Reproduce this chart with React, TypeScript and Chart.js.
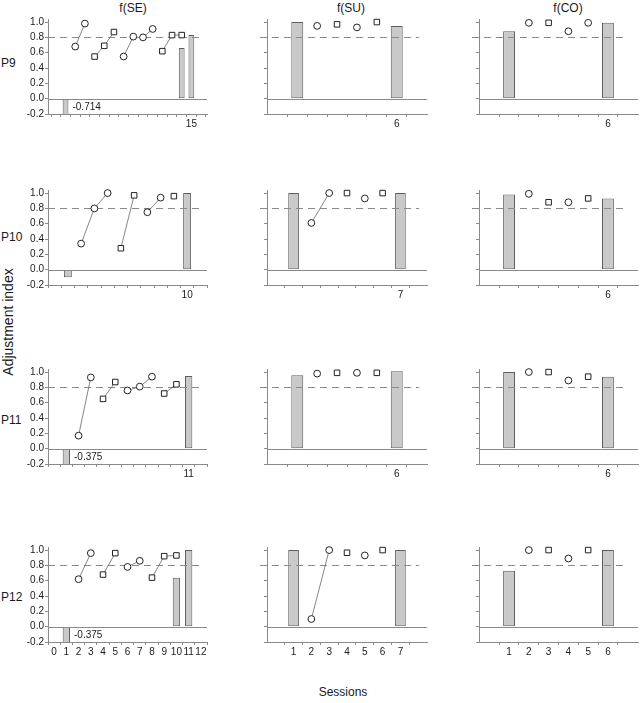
import React, { useEffect, useRef } from 'react';
import { Chart, registerables } from 'chart.js';

Chart.register(...registerables);

// ---------- texts ----------
const COLUMN_TITLES = ['f(SE)', 'f(SU)', 'f(CO)'];
const ROW_LABELS = ['P9', 'P10', 'P11', 'P12'];
const Y_AXIS_TITLE = 'Adjustment index';
const X_AXIS_TITLE = 'Sessions';
const Y_TICKS = [-0.2, 0, 0.2, 0.4, 0.6, 0.8, 1.0];
const CRITERION = 0.8;

// ---------- data : bars (session, value) and point runs [first session, marker, values] ----------
// f(SE)
const BAR_X_P9_SE = [2, 14, 15];
const BAR_Y_P9_SE = [-0.714, 0.66, 0.83];
const RUNS_P9_SE = [[3, 'o', [0.68, 0.98]], [5, 's', [0.55, 0.69, 0.87]], [8, 'o', [0.55, 0.81]], [10, 'o', [0.8, 0.91]], [12, 's', [0.62, 0.83, 0.83]]];
const BAR_X_P10_SE = [1, 10];
const BAR_Y_P10_SE = [-0.1, 1.0];
const RUNS_P10_SE = [[2, 'o', [0.34, 0.8, 1.0]], [5, 's', [0.28, 0.97]], [7, 'o', [0.75, 0.94]], [9, 's', [0.96]]];
const BAR_X_P11_SE = [1, 11];
const BAR_Y_P11_SE = [-0.375, 0.95];
const RUNS_P11_SE = [[2, 'o', [0.17, 0.93]], [4, 's', [0.65, 0.87]], [6, 'o', [0.76, 0.81, 0.94]], [9, 's', [0.72, 0.84]]];
const BAR_X_P12_SE = [1, 10, 11];
const BAR_Y_P12_SE = [-0.375, 0.64, 1.0];
const RUNS_P12_SE = [[2, 'o', [0.62, 0.96]], [4, 's', [0.68, 0.96]], [6, 'o', [0.78, 0.86]], [8, 's', [0.64, 0.92, 0.93]]];
// f(SU)
const BAR_X_P9_SU = [1, 6];
const BAR_Y_P9_SU = [1.0, 0.95];
const RUNS_P9_SU = [[2, 'o', [0.95]], [3, 's', [0.97]], [4, 'o', [0.93]], [5, 's', [1.0]]];
const BAR_X_P10_SU = [1, 7];
const BAR_Y_P10_SU = [1.0, 1.0];
const RUNS_P10_SU = [[2, 'o', [0.61, 1.0]], [4, 's', [1.0]], [5, 'o', [0.93]], [6, 's', [1.0]]];
const BAR_X_P11_SU = [1, 6];
const BAR_Y_P11_SU = [0.96, 1.01];
const RUNS_P11_SU = [[2, 'o', [0.98]], [3, 's', [0.99]], [4, 'o', [0.99]], [5, 's', [0.99]]];
const BAR_X_P12_SU = [1, 7];
const BAR_Y_P12_SU = [1.0, 1.0];
const RUNS_P12_SU = [[2, 'o', [0.1, 1.0]], [4, 's', [0.965]], [5, 'o', [0.93]], [6, 's', [1.0]]];
// f(CO)
const BAR_X_P9_CO = [1, 6];
const BAR_Y_P9_CO = [0.88, 0.99];
const RUNS_P9_CO = [[2, 'o', [0.99]], [3, 's', [0.99]], [4, 'o', [0.88]], [5, 'o', [0.99]]];
const BAR_X_P10_CO = [1, 6];
const BAR_Y_P10_CO = [0.98, 0.93];
const RUNS_P10_CO = [[2, 'o', [0.99]], [3, 's', [0.88]], [4, 'o', [0.88]], [5, 's', [0.93]]];
const BAR_X_P11_CO = [1, 6];
const BAR_Y_P11_CO = [1.0, 0.94];
const RUNS_P11_CO = [[2, 'o', [1.0]], [3, 's', [1.0]], [4, 'o', [0.89]], [5, 's', [0.94]]];
const BAR_X_P12_CO = [1, 6];
const BAR_Y_P12_CO = [0.73, 1.0];
const RUNS_P12_CO = [[2, 'o', [1.0]], [3, 's', [1.0]], [4, 'o', [0.89]], [5, 's', [1.0]]];

// x-axis ranges and labelled ticks per panel
const X_RANGE = [
  [[0.7, 16.1], [0.15, 6.85], [0.15, 6.85]],
  [[0, 11], [0.15, 7.85], [0.15, 6.85]],
  [[0, 12], [0.15, 6.85], [0.15, 6.85]],
  [[0, 12], [0.15, 7.85], [0.15, 6.85]],
];
const X_LABELS = [
  [[15], [6], [6]],
  [[10], [7], [6]],
  [[11], [6], [6]],
  [[0, 1, 2, 3, 4, 5, 6, 7, 8, 9, 10, 11, 12], [1, 2, 3, 4, 5, 6, 7], [1, 2, 3, 4, 5, 6]],
];

const PANELS = [
  [[BAR_X_P9_SE, BAR_Y_P9_SE, RUNS_P9_SE], [BAR_X_P9_SU, BAR_Y_P9_SU, RUNS_P9_SU], [BAR_X_P9_CO, BAR_Y_P9_CO, RUNS_P9_CO]],
  [[BAR_X_P10_SE, BAR_Y_P10_SE, RUNS_P10_SE], [BAR_X_P10_SU, BAR_Y_P10_SU, RUNS_P10_SU], [BAR_X_P10_CO, BAR_Y_P10_CO, RUNS_P10_CO]],
  [[BAR_X_P11_SE, BAR_Y_P11_SE, RUNS_P11_SE], [BAR_X_P11_SU, BAR_Y_P11_SU, RUNS_P11_SU], [BAR_X_P11_CO, BAR_Y_P11_CO, RUNS_P11_CO]],
  [[BAR_X_P12_SE, BAR_Y_P12_SE, RUNS_P12_SE], [BAR_X_P12_SU, BAR_Y_P12_SU, RUNS_P12_SU], [BAR_X_P12_CO, BAR_Y_P12_CO, RUNS_P12_CO]],
];

// ---------- layout / style ----------
const Y_MIN = -0.2;
const Y_MAX = 1.04;
const COL_LEFT = [48, 267, 479];
const COL_RIGHT = [207, 427, 638];
const ROW_ZERO = [99, 270, 449, 627];
const UNIT = 77;
const YW = 40;
const XH = 18;
const PAD_T = 8;
const PAD_R = 10;
const DASH_EXT_LEFT = [0, 7, 7];
const DASH_INSET_RIGHT = [4, 8, 10];
const FONT = "'Liberation Sans', Arial, sans-serif";
const AXIS_COLOR = '#8a8a8a';
const TEXT_COLOR = '#1a1a1a';

const refPlugin = {
  id: 'refLines',
  afterDatasetDraw(chart: any, args: any, opts: any) {
    if (args.meta.type !== 'bar') return;
    const { ctx, chartArea } = chart;
    const y = chart.scales.y;
    ctx.save();
    ctx.strokeStyle = AXIS_COLOR;
    ctx.lineWidth = 1;
    const y0 = Math.round(y.getPixelForValue(0)) + 0.5;
    ctx.beginPath();
    ctx.moveTo(chartArea.left, y0);
    ctx.lineTo(chartArea.right, y0);
    ctx.stroke();
    const yc = Math.round(y.getPixelForValue(CRITERION)) + 0.5;
    ctx.setLineDash([7, 5]);
    ctx.beginPath();
    ctx.moveTo(chartArea.left - opts.extLeft, yc);
    ctx.lineTo(chartArea.right - opts.insetRight, yc);
    ctx.stroke();
    ctx.restore();
  },
  afterDatasetsDraw(chart: any) {
    const { ctx } = chart;
    const y = chart.scales.y;
    chart.data.datasets.forEach((ds: any, di: number) => {
      if (ds.type !== 'bar') return;
      const meta = chart.getDatasetMeta(di);
      ds.data.forEach((p: any, i: number) => {
        if (p.y >= Y_MIN) return;
        const el = meta.data[i];
        ctx.save();
        ctx.fillStyle = TEXT_COLOR;
        ctx.font = `10px ${FONT}`;
        ctx.textAlign = 'left';
        ctx.textBaseline = 'middle';
        const ty = (y.getPixelForValue(0) + y.getPixelForValue(Y_MIN)) / 2;
        ctx.fillText(p.y.toFixed(3), el.x + el.width / 2 + 4, ty + 1);
        ctx.restore();
      });
    });
  },
};

function Panel({ row, col }: { row: number; col: number }) {
  const ref = useRef<HTMLCanvasElement>(null);
  const plotTop = ROW_ZERO[row] - Y_MAX * UNIT;
  const plotBottom = ROW_ZERO[row] - Y_MIN * UNIT;
  const width = YW + (COL_RIGHT[col] - COL_LEFT[col]) + PAD_R;
  const height = PAD_T + (plotBottom - plotTop) + XH;
  const left = COL_LEFT[col] - YW;
  const top = plotTop - PAD_T;

  useEffect(() => {
    const [barX, barY, runs] = PANELS[row][col] as any;
    const [xmin, xmax] = X_RANGE[row][col];
    const labels = X_LABELS[row][col];
    const datasets: any[] = [
      {
        type: 'bar',
        data: barX.map((x: number, i: number) => ({ x, y: barY[i] })),
        backgroundColor: '#c9c9c9',
        borderColor: '#5e5e5e',
        borderWidth: 1,
        borderSkipped: false,
        barPercentage: 0.6,
        categoryPercentage: 1,
        order: 10,
      },
    ];
    runs.forEach((r: any) => {
      const [start, marker, vals] = r;
      datasets.push({
        type: 'line',
        data: vals.map((v: number, i: number) => ({ x: start + i, y: v })),
        borderColor: '#666',
        borderWidth: 0.8,
        pointStyle: marker === 'o' ? 'circle' : 'rect',
        pointRadius: marker === 'o' ? 3.4 : 3.9,
        pointBackgroundColor: '#fff',
        pointBorderColor: '#222',
        pointBorderWidth: 1,
        tension: 0,
        clip: false,
        order: 0,
      });
    });
    const chart = new Chart(ref.current as HTMLCanvasElement, {
      type: 'bar',
      data: { datasets },
      plugins: [refPlugin],
      options: {
        animation: false,
        responsive: false,
        maintainAspectRatio: false,
        devicePixelRatio: window.devicePixelRatio || 1,
        layout: { padding: { top: PAD_T, right: PAD_R, left: 0, bottom: 0 } },
        events: [],
        plugins: {
          legend: { display: false },
          tooltip: { enabled: false },
          refLines: { extLeft: DASH_EXT_LEFT[col], insetRight: DASH_INSET_RIGHT[col] },
        } as any,
        scales: {
          x: {
            type: 'linear',
            min: xmin,
            max: xmax,
            afterBuildTicks: (s: any) => {
              const t = [];
              for (let v = Math.ceil(xmin); v <= Math.floor(xmax); v++) t.push({ value: v });
              s.ticks = t;
            },
            afterFit: (s: any) => {
              s.height = XH;
            },
            grid: { display: true, drawOnChartArea: false, drawTicks: true, tickLength: 3, color: AXIS_COLOR },
            border: { display: true, color: AXIS_COLOR },
            ticks: {
              autoSkip: false,
              maxRotation: 0,
              padding: 1,
              color: TEXT_COLOR,
              font: { family: FONT, size: 10 },
              callback: (v: any) => (labels.includes(Number(v)) ? String(v) : ''),
            },
          },
          y: {
            type: 'linear',
            min: Y_MIN,
            max: Y_MAX,
            afterBuildTicks: (s: any) => {
              s.ticks = Y_TICKS.map((v) => ({ value: v }));
            },
            afterFit: (s: any) => {
              s.width = YW;
            },
            grid: { display: true, drawOnChartArea: false, drawTicks: true, tickLength: 3, color: AXIS_COLOR },
            border: { display: true, color: AXIS_COLOR },
            ticks: {
              padding: 1,
              color: TEXT_COLOR,
              font: { family: FONT, size: 10 },
              callback: (v: any) => (col === 0 ? Number(v).toFixed(1) : ''),
            },
          },
        },
      } as any,
    });
    return () => chart.destroy();
  }, [row, col]);

  return (
    <canvas
      ref={ref}
      width={width}
      height={height}
      style={{ position: 'absolute', left, top, width, height }}
    />
  );
}

const TITLE_X = [133, 351, 568];
const ROW_LABEL_Y = [63, 237, 420, 597];

export default function App() {
  const textBase: React.CSSProperties = {
    position: 'absolute',
    fontFamily: FONT,
    fontSize: 12,
    color: TEXT_COLOR,
    whiteSpace: 'nowrap',
    lineHeight: '14px',
  };
  const panels = [];
  for (let r = 0; r < 4; r++) for (let c = 0; c < 3; c++) panels.push(<Panel key={`${r}-${c}`} row={r} col={c} />);
  return (
    <div style={{ position: 'fixed', left: 0, top: 0, width: 640, height: 703, overflow: 'hidden', background: '#fff' }}>
      {COLUMN_TITLES.map((t, i) => (
        <div key={t} style={{ ...textBase, left: TITLE_X[i], top: 1, transform: 'translateX(-50%)' }}>
          {t}
        </div>
      ))}
      {ROW_LABELS.map((t, i) => (
        <div key={t} style={{ ...textBase, left: 1, top: ROW_LABEL_Y[i] - 7 }}>
          {t}
        </div>
      ))}
      <div style={{ ...textBase, fontSize: 14, left: 8, top: 322, transform: 'translate(-50%, -50%) rotate(-90deg)' }}>{Y_AXIS_TITLE}</div>
      <div style={{ ...textBase, left: 343, top: 685, transform: 'translateX(-50%)' }}>{X_AXIS_TITLE}</div>
      {panels}
    </div>
  );
}
